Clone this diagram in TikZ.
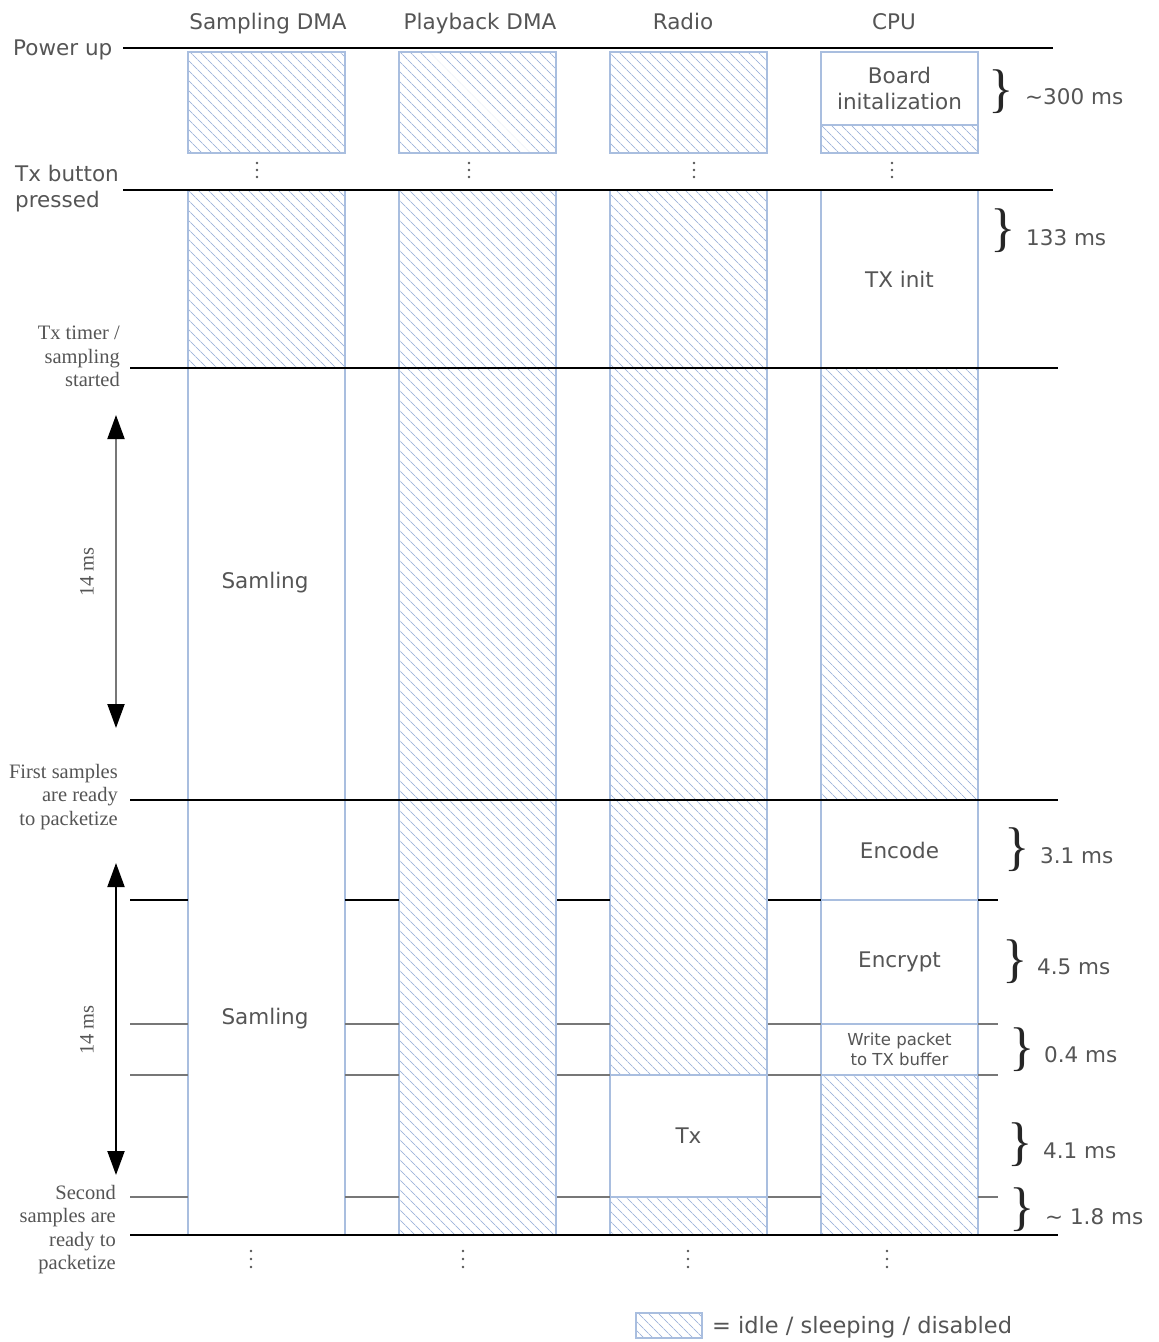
\documentclass[tikz,border=0pt]{standalone}
\usepackage{fontspec}
\setmainfont{DejaVu Sans}
\newfontfamily\labelserif{Liberation Serif}
\usetikzlibrary{patterns.meta,arrows.meta}
\definecolor{boxblue}{HTML}{A9BEDF}
\definecolor{hatchblue}{HTML}{A3B7DC}
\definecolor{ink}{HTML}{555555}
\definecolor{rule}{HTML}{777777}

\begin{document}
\begin{tikzpicture}[x=1pt,y=-1pt,
  cell/.style={rectangle, inner sep=0pt, outer sep=0pt, minimum width=157pt, anchor=north west,
    text=ink, font=\fontsize{21.5}{26}\selectfont, align=center},
  idle/.style={cell, draw=boxblue, line width=1.3pt,
    pattern={Lines[angle=-45,distance=7.4pt,line width=0.95pt]}, pattern color=hatchblue},
  busy/.style={cell, draw=boxblue, line width=1.3pt, fill=white},
  head/.style={text=ink, font=\fontsize{21.5}{26}\selectfont, anchor=base, inner sep=0pt},
  sans/.style={text=ink, font=\fontsize{21.5}{26}\selectfont, inner sep=0pt},
  event/.style={text=ink, font=\labelserif\fontsize{20.5}{23.5}\selectfont, align=right,
    anchor=north east, inner sep=0pt},
  brace/.style={text=black!85, font=\labelserif\fontsize{53}{53}\selectfont, inner sep=0pt},
  dur/.style={text=ink, font=\fontsize{21.5}{26}\selectfont, anchor=base west, inner sep=0pt},
  bigline/.style={black, line width=2.6pt},
  midline/.style={black, line width=1.8pt},
  thinline/.style={rule, line width=1.6pt},
  span/.style={line width=2pt,
    {Triangle[length=24pt,width=17pt,color=black]}-{Triangle[length=24pt,width=17pt,color=black]}},
  vdots/.style={fill=ink}
]
\useasboundingbox (0,0) rectangle (1159,1342);

% column headings
\node[head] (hsd) at (268,29) {Sampling DMA};
\node[head] (hpd) at (480,29) {Playback DMA};
\node[head] (hr)  at (683,29) {Radio};
\node[head] (hc)  at (894,29) {CPU};

% ---------- power-up phase ----------
\node[idle] (sd0) at (188,52) [minimum height=101pt] {};
\node[idle] (pd0) at (399,52) [minimum height=101pt] {};
\node[idle] (ra0) at (610,52) [minimum height=101pt] {};
\node[busy] (cp0) at (821,52) [minimum height=73pt] {Board\\initalization};
\node[idle] (cp0b) at (821,125) [minimum height=28pt] {};

% ---------- transmit phase ----------
\node[idle] (sd1) at (188,190) [minimum height=178pt] {};
\node[busy] (sd2) at (188,368) [minimum height=867pt] {};
\node[idle] (pd1) at (399,190) [minimum height=1045pt] {};
\node[idle] (ra1) at (610,190) [minimum height=885pt] {};
\node[busy] (ra2) at (610,1075) [minimum height=122pt] {Tx};
\node[idle] (ra3) at (610,1197) [minimum height=38pt] {};
\node[busy] (cp1) at (821,190) [minimum height=178pt] {TX init};
\node[idle] (cp2) at (821,368) [minimum height=432pt] {};
\node[busy] (cp3) at (821,800) [minimum height=100pt] {Encode};
\node[busy] (cp4) at (821,900) [minimum height=124pt] {Encrypt};
\node[busy] (cp5) at (821,1024) [minimum height=51pt, font=\fontsize{16.5}{20}\selectfont] {Write packet\\to TX buffer};
\node[idle] (cp6) at (821,1075) [minimum height=160pt] {};

\node[sans] (smp1) at (265,583) {Samling};
\node[sans] (smp2) at (265,1019) {Samling};

% event lines
\coordinate (pu1) at (123,48);   \coordinate (pu2) at (1053,48);
\coordinate (tb1) at (123,190);  \coordinate (tb2) at (1053,190);
\coordinate (ts1) at (130,368);  \coordinate (ts2) at (1058,368);
\coordinate (fs1) at (130,800);  \coordinate (fs2) at (1058,800);
\coordinate (ss1) at (130,1235); \coordinate (ss2) at (1058,1235);
\draw[bigline] (pu1) -- (pu2);
\draw[bigline] (tb1) -- (tb2);
\draw[midline] (ts1) -- (ts2);
\draw[midline] (fs1) -- (fs2);
\draw[bigline] (ss1) -- (ss2);

% step markers between the columns
\foreach \yy/\sty in {900/midline,1024/thinline,1075/thinline,1197/thinline}{
  \draw[\sty] (130,\yy) -- (188,\yy);
  \draw[\sty] (345,\yy) -- (399,\yy);
  \draw[\sty] (557,\yy) -- (610,\yy);
  \draw[\sty] (768,\yy) -- (821,\yy);
  \draw[\sty] (978,\yy) -- (998,\yy);
}

% event labels
\node[head, anchor=base west] (ev0) at (13,55) {Power up};
\node[head, anchor=base west, align=left] (ev1) at (15,207) {Tx button\\pressed};
\node[event] (ev2) at (120,326) {Tx timer /\\sampling\\started};
\node[event] (ev3) at (118,764) {First samples\\are ready\\to packetize};
\node[event] (ev4) at (116,1185) {Second\\samples are\\ready to\\packetize};

% period arrows
\coordinate (a1t) at (116,415); \coordinate (a1b) at (116,728);
\coordinate (a2t) at (116,863); \coordinate (a2b) at (116,1175);
\draw[span, draw=rule] (a1t) -- (a1b);
\draw[span, black] (a2t) -- (a2b);
\node[event, anchor=center, rotate=90] (p1) at (87,572) {14 ms};
\node[event, anchor=center, rotate=90] (p2) at (87,1030) {14 ms};

% durations
\node[brace] (br1) at (1001,92) {\}};   \node[dur] (d1) at (1025,104) {\textasciitilde300 ms};
\node[brace] (br2) at (1003,231) {\}};  \node[dur] (d2) at (1026,245) {133 ms};
\node[brace] (br3) at (1017,850) {\}};  \node[dur] (d3) at (1040,863) {3.1 ms};
\node[brace] (br4) at (1015,962) {\}};  \node[dur] (d4) at (1037,974) {4.5 ms};
\node[brace] (br5) at (1022,1050) {\}}; \node[dur] (d5) at (1044,1062) {0.4 ms};
\node[brace] (br6) at (1020,1145) {\}}; \node[dur] (d6) at (1043,1158) {4.1 ms};
\node[brace] (br7) at (1022,1210) {\}}; \node[dur] (d7) at (1045,1224) {\textasciitilde{} 1.8 ms};

% continuation dots
\foreach \xx in {257,469,694,892}{
  \foreach \yy in {163,170,177}{ \fill[vdots] (\xx,\yy) circle (1.4); }
}
\foreach \xx in {251,463,688,887}{
  \foreach \yy in {1251,1259,1267}{ \fill[vdots] (\xx,\yy) circle (1.4); }
}

% legend
\node[idle, minimum width=66pt, minimum height=25pt] (lg) at (636,1313) {};
\node[dur, font=\fontsize{22.5}{26}\selectfont] (lgt) at (712,1333) {= idle / sleeping / disabled};
\end{tikzpicture}
\end{document}
